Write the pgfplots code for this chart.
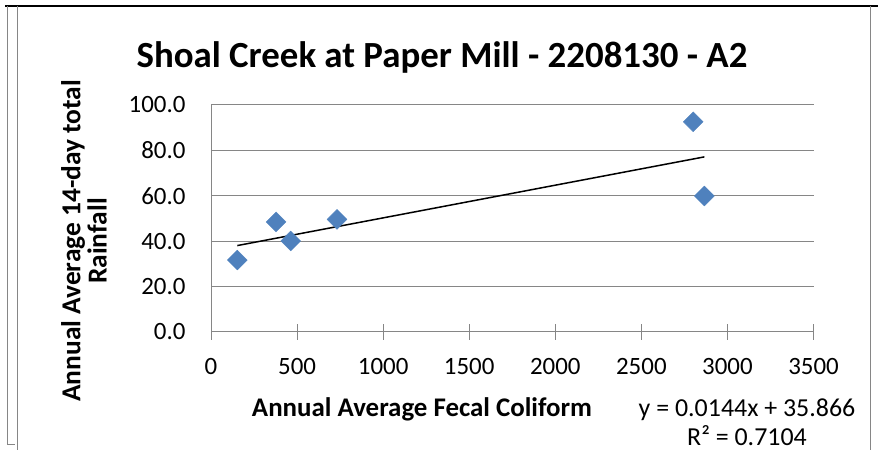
\documentclass[border=0pt]{standalone}
\usepackage{pgfplots}
\pgfplotsset{compat=1.18}
\usepackage{fontspec}
\setmainfont{Carlito}
\definecolor{gridgray}{HTML}{868686}
\definecolor{markblue}{HTML}{4F81BD}
\begin{document}
\begin{tikzpicture}[x=1bp,y=1bp]
\useasboundingbox (0,0) rectangle (878,450);
% frame lines
\draw[black,line width=1.6bp] (5,444) -- (878,444);
\draw[gridgray,line width=1bp] (7,444) -- (7,5) -- (15,5);
\draw[gridgray,line width=1bp] (17.5,444) -- (17.5,0);
\draw[gridgray,line width=1bp] (870,444) -- (870,0);
\begin{axis}[
  at={(211bp,118bp)}, anchor=south west,
  scale only axis, width=602.5bp, height=227bp,
  xmin=0, xmax=3500, ymin=0, ymax=100,
  xtick={0,500,...,3500}, ytick={0,20,...,100},
  axis x line*=bottom, axis y line*=left,
  axis line style={gridgray, line width=1bp, -},
  ymajorgrids, grid style={gridgray, line width=1bp},
  major tick length=16bp, tick align=center,
  xtick style={gridgray, line width=1bp},
  ytick style={draw=none},
  ticklabel style={font=\fontsize{25}{30}\selectfont, text=black},
  xticklabel style={yshift=-15bp},
  yticklabel style={xshift=-14bp},
  /pgf/number format/assume math mode=true,
  xticklabel={\pgfmathprintnumber[fixed,precision=0,1000 sep={}]{\tick}},
  yticklabel={\pgfmathprintnumber[fixed,fixed zerofill,precision=1]{\tick}},
  clip=false,
]
\addplot[only marks, mark=square*, mark size=7bp, color=markblue,
  every mark/.append style={rotate=45}] coordinates {
  (153,31.7) (378,48.5) (463,40.1) (732,49.6) (2801,92.6) (2866,59.9)
};
\addplot[black, line width=1.5bp, no marks] coordinates {
  (153,38.07) (2866,77.14)
};
\end{axis}
\node[font=\fontsize{37}{44}\selectfont\bfseries] at (442,393) {Shoal Creek at Paper Mill - 2208130 - A2};
\node[font=\fontsize{27.5}{26.5}\selectfont\bfseries, rotate=90, align=center] at (84,209) {Annual Average 14-day total\\Rainfall};
\node[font=\fontsize{27}{32}\selectfont\bfseries] at (422,41) {Annual Average Fecal Coliform};
\node[font=\fontsize{26}{29}\selectfont, align=center] at (747,28) {y = 0.0144x + 35.866\\R² = 0.7104};
\end{tikzpicture}
\end{document}
